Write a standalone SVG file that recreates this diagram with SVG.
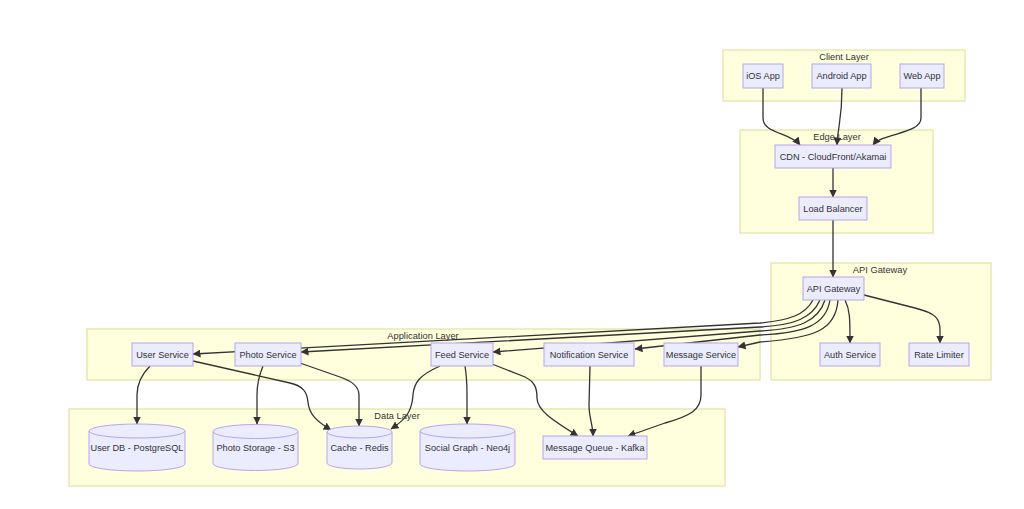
<svg xmlns="http://www.w3.org/2000/svg" width="1024" height="509" viewBox="0 0 1024 509">
<style>
.cl{fill:#ffffde;stroke:#dcdc96;stroke-width:1}
.ct{font-family:"Liberation Sans",Arial,sans-serif;font-size:9.3px;fill:#333;text-anchor:middle}
.n rect,.n path{fill:#ececff;stroke:#b8a4ec;stroke-width:1}
.n text{font-family:"Liberation Sans",Arial,sans-serif;font-size:9.2px;fill:#333;text-anchor:middle;dominant-baseline:central}
.e path{fill:none;stroke:#333;stroke-width:1.3;marker-end:url(#ah)}
</style>
<defs>
<marker id="ah" markerUnits="userSpaceOnUse" markerWidth="8" markerHeight="8" refX="7.5" refY="4" orient="auto">
<path d="M0,0 L8,4 L0,8 z" fill="#333"/>
</marker>
</defs>
<rect width="1024" height="509" fill="#fff"/>
<g id="clusters">
<g id="client-layer"><rect class="cl" x="723" y="50" width="242" height="51"/><text class="ct" x="844" y="60">Client Layer</text></g>
<g id="edge-layer"><rect class="cl" x="740" y="130" width="193" height="103"/><text class="ct" x="837" y="140">Edge Layer</text></g>
<g id="api-gateway-layer"><rect class="cl" x="771" y="263" width="220" height="117"/><text class="ct" x="880" y="273">API Gateway</text></g>
<g id="application-layer"><rect class="cl" x="87" y="329" width="673" height="51"/><text class="ct" x="423" y="339">Application Layer</text></g>
<g id="data-layer"><rect class="cl" x="69" y="409" width="656" height="77"/><text class="ct" x="397" y="419">Data Layer</text></g>
</g>
<g id="connectors" class="e">
<path d="M763,88 L763,118 C763,134 790,132 800,145"/>
<path d="M842,88 C842,120 838,125 837,145"/>
<path d="M921,88 L921,118 C921,134 882,133 873,145"/>
<path d="M833,168 L833,197"/>
<path d="M833,220 L833,277"/>
<path d="M845,300 C850,310 850,318 850,343"/>
<path d="M864,295 L915,308 C935,313 940,318 940,330 L940,343"/>
<path d="M813,300 C805,315 790,320 760,323 L193,354"/>
<path d="M820,300 C812,318 795,325 760,327 L301,352"/>
<path d="M825,300 C818,322 798,329 760,331 L493,352"/>
<path d="M830,300 C826,325 805,333 760,335 L635,349"/>
<path d="M838,300 C836,330 815,338 760,342 L738,347"/>
<path d="M150,366 C140,376 137,385 137,395 L137,424"/>
<path d="M263,366 C258,378 257,385 257,395 L257,424"/>
<path d="M193,361 L290,383 C303,386 307,392 308,402 C309,415 318,422 331,430"/>
<path d="M300,363 L340,377 C352,381 359,386 359,395 L359,426"/>
<path d="M440,366 C420,375 414,382 413,395 C412,412 405,420 391,429"/>
<path d="M465,366 C467,378 467,385 467,395 L467,424"/>
<path d="M492,364 L525,377 C535,382 537,388 537,398 C537,410 552,420 578,436"/>
<path d="M590,366 L589,405 C589,418 593,425 593,436"/>
<path d="M701,366 L701,395 C701,410 690,416 665,423 L628,436"/>
</g>
<g id="ios-app" class="n"><rect x="743" y="64" width="40" height="24"/><text x="763" y="76">iOS App</text></g>
<g id="android-app" class="n"><rect x="812" y="64" width="59" height="24"/><text x="841.5" y="76">Android App</text></g>
<g id="web-app" class="n"><rect x="900" y="64" width="44" height="24"/><text x="922" y="76">Web App</text></g>
<g id="cdn" class="n"><rect x="775" y="145" width="116" height="23"/><text x="833" y="156.5">CDN - CloudFront/Akamai</text></g>
<g id="load-balancer" class="n"><rect x="799" y="197" width="68" height="23"/><text x="833" y="208.5">Load Balancer</text></g>
<g id="api-gateway" class="n"><rect x="803" y="277" width="61" height="23"/><text x="833.5" y="288.5">API Gateway</text></g>
<g id="auth-service" class="n"><rect x="820" y="343" width="60" height="23"/><text x="850" y="354.5">Auth Service</text></g>
<g id="rate-limiter" class="n"><rect x="909" y="343" width="60" height="23"/><text x="939" y="354.5">Rate Limiter</text></g>
<g id="user-service" class="n"><rect x="132" y="343" width="61" height="23"/><text x="162.5" y="354.5">User Service</text></g>
<g id="photo-service" class="n"><rect x="235" y="343" width="66" height="23"/><text x="268" y="354.5">Photo Service</text></g>
<g id="feed-service" class="n"><rect x="431" y="343" width="62" height="23"/><text x="462" y="354.5">Feed Service</text></g>
<g id="notification-service" class="n"><rect x="544" y="343" width="90" height="23"/><text x="589" y="354.5">Notification Service</text></g>
<g id="message-service" class="n"><rect x="664" y="343" width="74" height="23"/><text x="701" y="354.5">Message Service</text></g>
<g id="user-db" class="n"><path d="M89,431 a48,7 0 0 0 96,0 a48,7 0 0 0 -96,0 l0,33 a48,7 0 0 0 96,0 l0,-33"/><text x="137" y="448">User DB - PostgreSQL</text></g>
<g id="photo-storage" class="n"><path d="M213,431.5 a42.5,7 0 0 0 85,0 a42.5,7 0 0 0 -85,0 l0,32 a42.5,7 0 0 0 85,0 l0,-32"/><text x="255.5" y="448">Photo Storage - S3</text></g>
<g id="cache-redis" class="n"><path d="M327,432 a32.5,6 0 0 0 65,0 a32.5,6 0 0 0 -65,0 l0,31 a32.5,6 0 0 0 65,0 l0,-31"/><text x="359.5" y="448">Cache - Redis</text></g>
<g id="social-graph" class="n"><path d="M420,431 a47.5,7 0 0 0 95,0 a47.5,7 0 0 0 -95,0 l0,33 a47.5,7 0 0 0 95,0 l0,-33"/><text x="467.5" y="448">Social Graph - Neo4j</text></g>
<g id="message-queue" class="n"><rect x="543" y="436" width="104" height="23"/><text x="595" y="447.5">Message Queue - Kafka</text></g>
</svg>
